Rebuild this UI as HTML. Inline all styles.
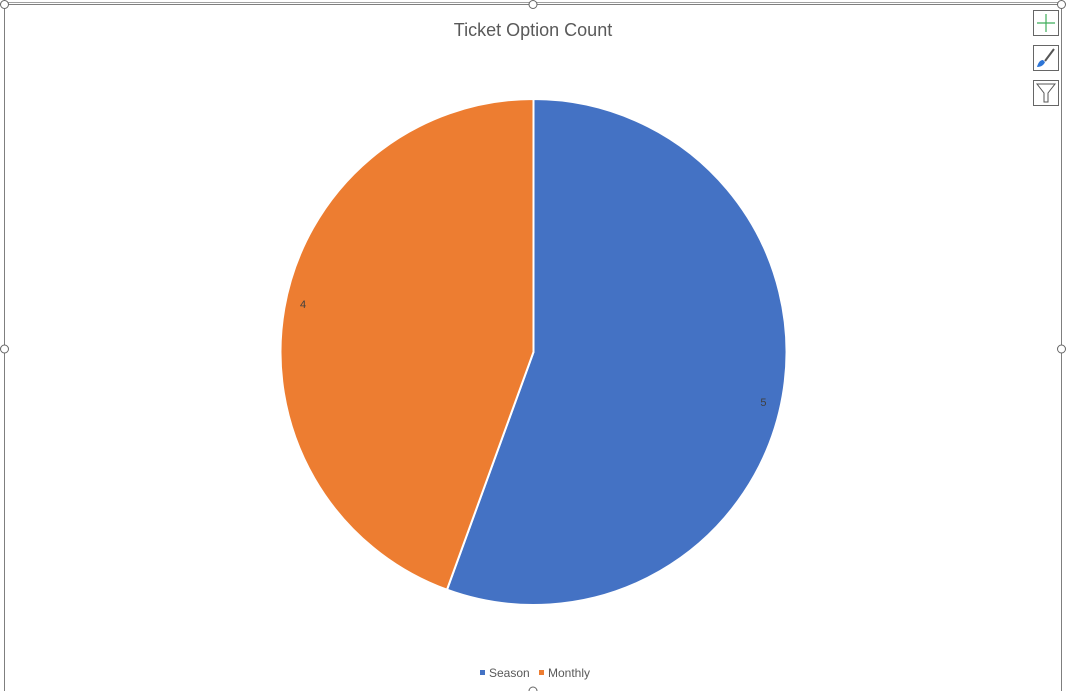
<!DOCTYPE html>
<html><head><meta charset="utf-8"><style>
body{margin:0;background:#fff;width:1066px;height:691px;overflow:hidden;font-family:"Liberation Sans",sans-serif;}
</style></head><body>
<svg width="1066" height="691">
<g>
<rect x="4.5" y="4.5" width="1057" height="700" fill="none" stroke="#7f7f7f" stroke-width="1"/>
<line x1="4" y1="2.5" x2="1062" y2="2.5" stroke="#a0a0a0"/>
<g fill="#fff" stroke="#666" stroke-width="1">
<circle cx="4.5" cy="4.5" r="4"/><circle cx="533" cy="4.5" r="4"/><circle cx="1061.5" cy="4.5" r="4"/>
<circle cx="4.5" cy="349" r="4"/><circle cx="1061.5" cy="349" r="4"/><circle cx="533" cy="691" r="4"/>
</g></g>
<text x="533" y="36" text-anchor="middle" font-size="18" fill="#595959">Ticket Option Count</text>
<g id="pie"></g>
<g>
<rect x="480" y="670" width="5" height="5" fill="#4472c4"/>
<text x="489" y="677" font-size="12" fill="#595959">Season</text>
<rect x="539" y="670" width="5" height="5" fill="#ed7d31"/>
<text x="548" y="677" font-size="12" fill="#595959">Monthly</text>
</g>
<g>
<rect x="1033.5" y="10.5" width="25" height="25" fill="#fff" stroke="#666"/>
<path d="M1046 14v18M1037 23h18" stroke="#3fae5a" stroke-width="1.2"/></g>
<g>
<rect x="1033.5" y="45.5" width="25" height="25" fill="#fff" stroke="#666"/>
<path d="M1054 49l-9 12" stroke="#555" stroke-width="2"/>
<path d="M1043 60c-3 0-5 3-6 7c4 0 7-2 8-5z" fill="#2e75d6"/></g>
<g>
<rect x="1033.5" y="80.5" width="25" height="25" fill="#fff" stroke="#666"/>
<path d="M1037 84h18l-7 9v9h-4v-9z" fill="none" stroke="#555"/></g>
</svg>
<script>
const categories=["Season","Monthly"];
const values=[5,4];
const colors=["#4472c4","#ed7d31"];
const cx=533.5,cy=352,r=253;
const g=document.getElementById('pie');
const total=values.reduce((a,b)=>a+b,0);
let a0=0;
const ns="http://www.w3.org/2000/svg";
values.forEach((v,i)=>{
  const a1=a0+v/total*2*Math.PI;
  const p=(a)=>[cx+r*Math.sin(a),cy-r*Math.cos(a)];
  const [x0,y0]=p(a0),[x1,y1]=p(a1);
  const path=document.createElementNS(ns,'path');
  path.setAttribute('d',`M${cx},${cy}L${x0},${y0}A${r},${r} 0 ${a1-a0>Math.PI?1:0} 1 ${x1},${y1}Z`);
  path.setAttribute('fill',colors[i]);path.setAttribute('stroke','#fff');path.setAttribute('stroke-width','2');
  
  
  g.appendChild(path);
  const m=(a0+a1)/2+(i===0?0.04:0.03), lr=r*0.93;
  const t=document.createElementNS(ns,'text');
  t.setAttribute('x',cx+lr*Math.sin(m));t.setAttribute('y',cy-lr*Math.cos(m)+4);
  t.setAttribute('font-size','11');t.setAttribute('fill','#404040');t.setAttribute('text-anchor','middle');
  t.textContent=v;
  
  
  g.appendChild(t);
  a0=a1;
});
</script>
</body></html>
